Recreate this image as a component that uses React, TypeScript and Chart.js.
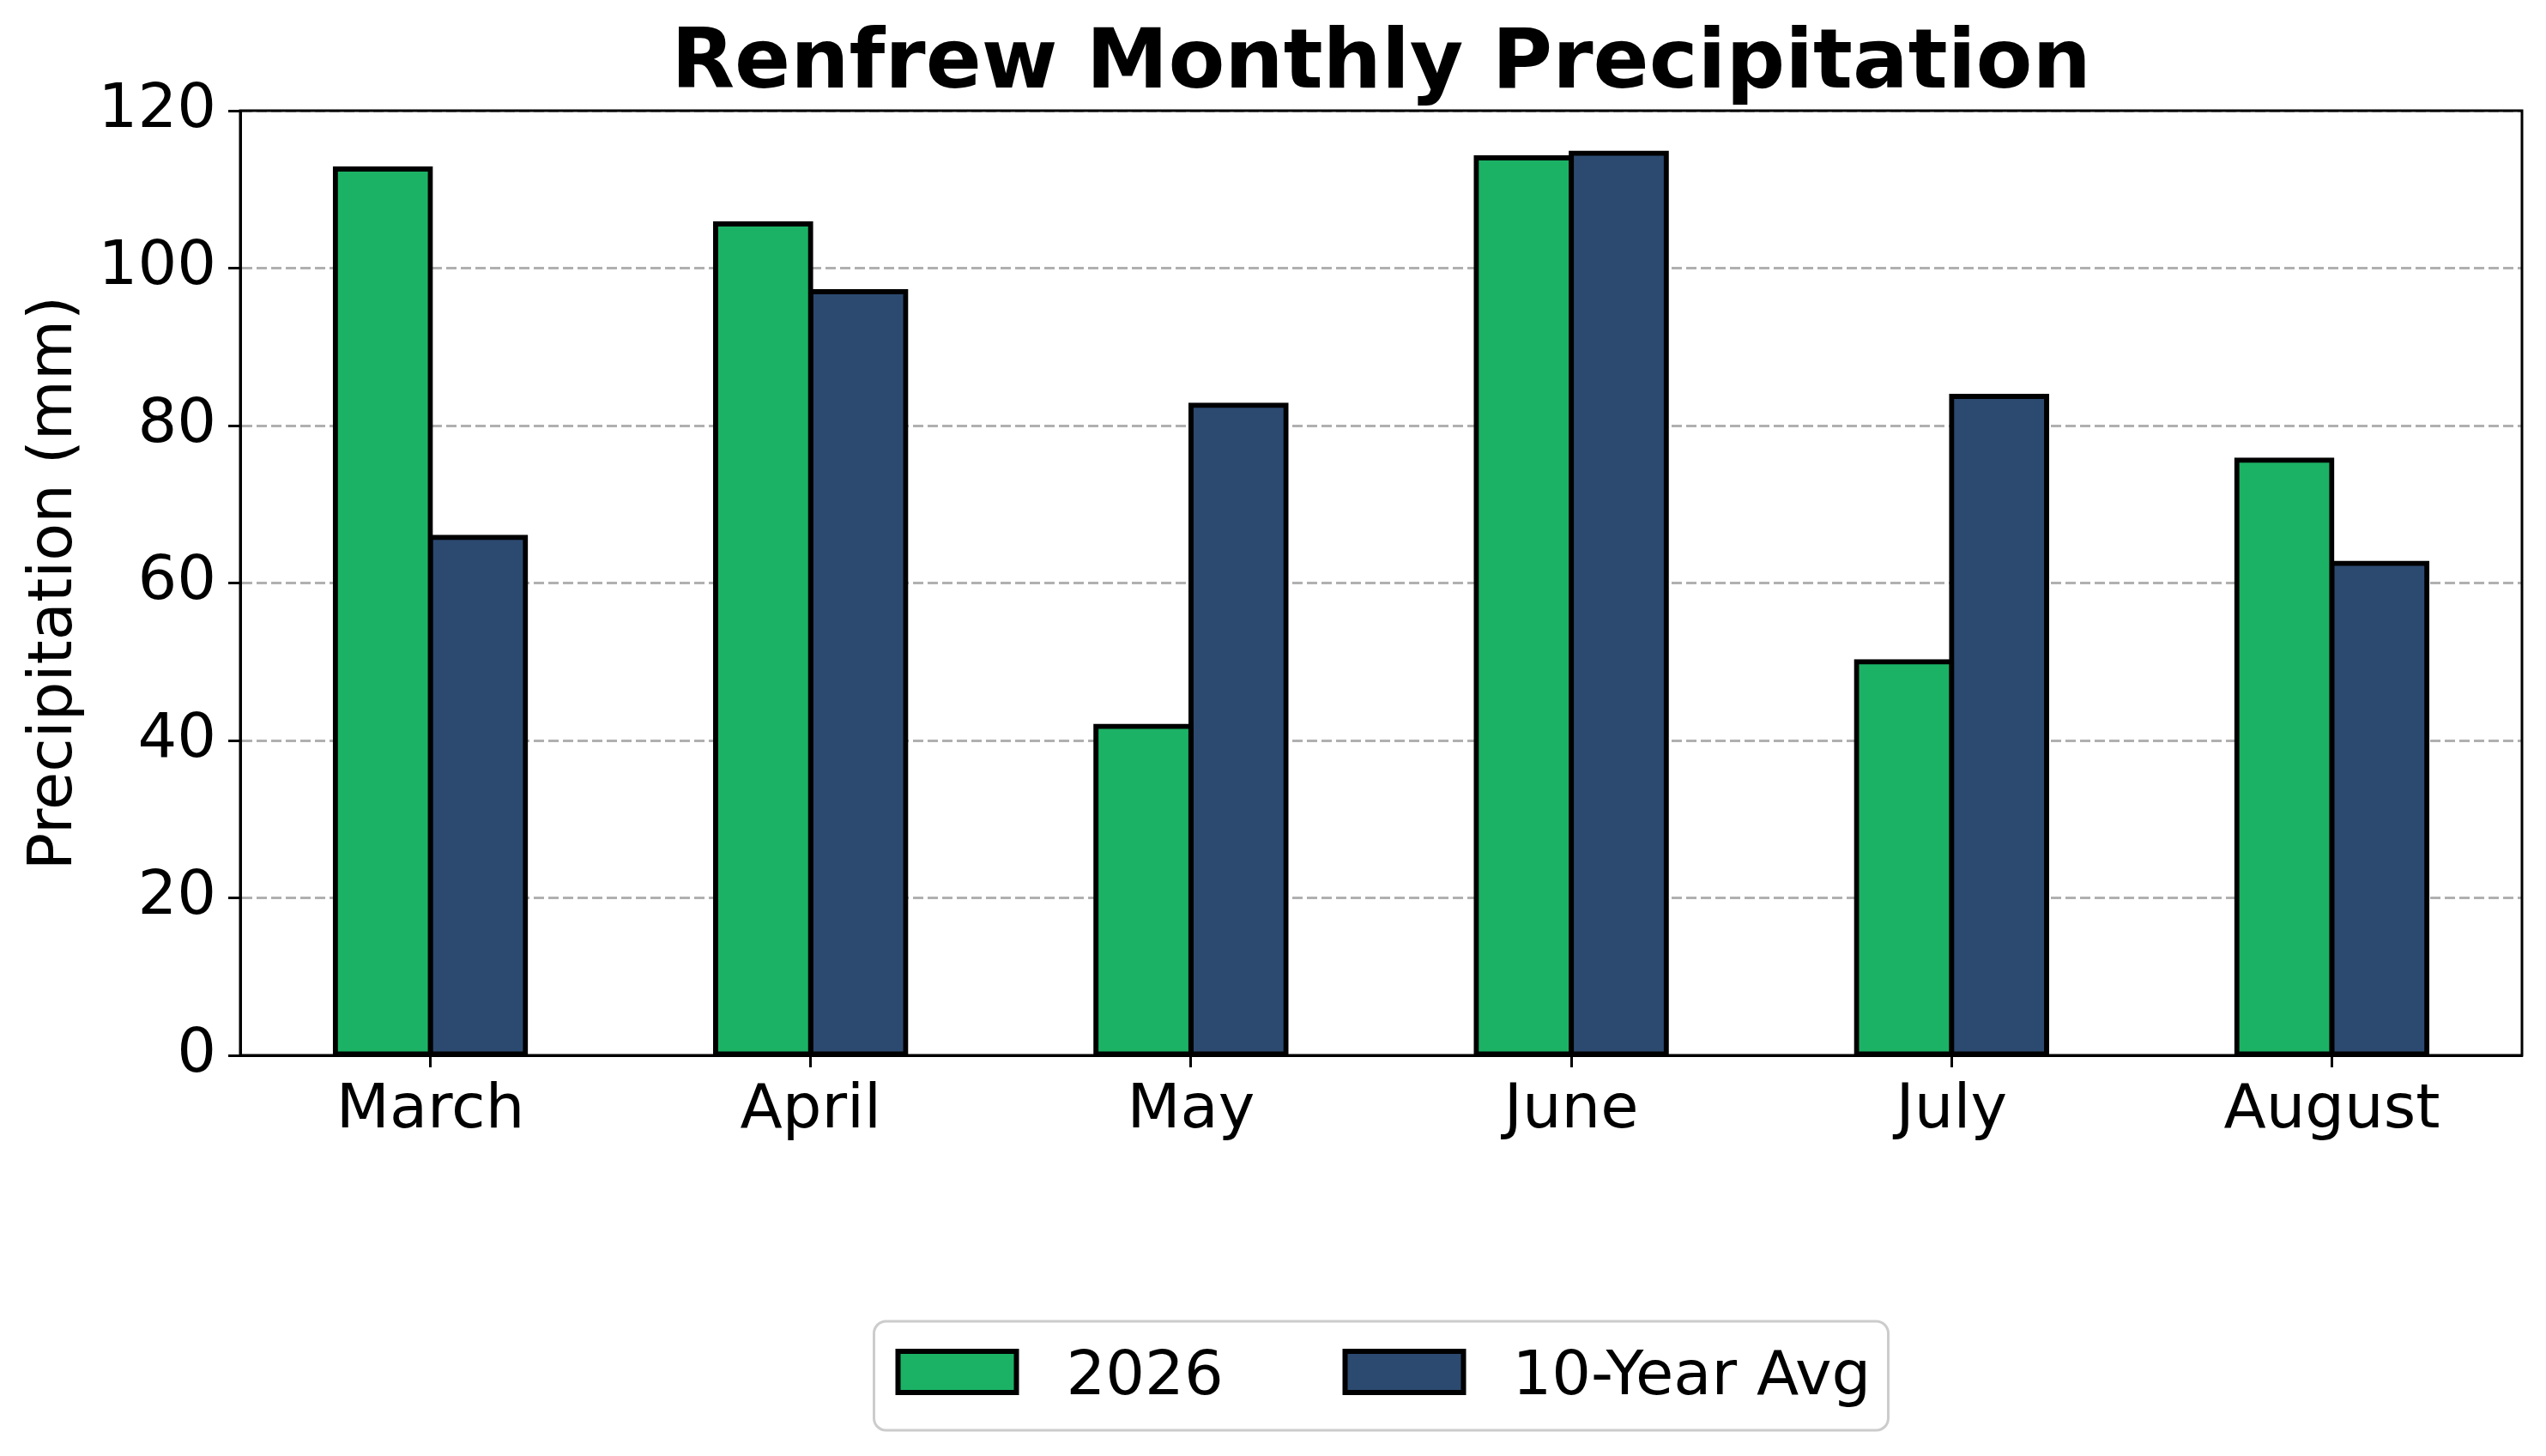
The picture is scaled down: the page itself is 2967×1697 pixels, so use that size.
import React, { useEffect, useRef } from "react";
import { Chart, registerables } from "chart.js";

Chart.register(...registerables);

// ---- data ----
const months = ["March", "April", "May", "June", "July", "August"];
const precip2026 = [112.6, 105.6, 41.8, 114.0, 50.0, 75.6];
const tenYearAvg = [65.8, 97.0, 82.6, 114.6, 83.7, 62.5];
const seriesLabels = ["2026", "10-Year Avg"];
const seriesColors = ["#1bb265", "#2c4a70"];
const yMin = 0;
const yMax = 120;
const yStep = 20;
const titleText = "Renfrew Monthly Precipitation";
const yTitleText = "Precipitation (mm)";

const FONT = "'DejaVu Sans', 'Liberation Sans', sans-serif";
const W = 2967;
const H = 1697;

const spinesPlugin = {
  id: "spines",
  afterDatasetsDraw(chart: any) {
    const { ctx, chartArea } = chart;
    const { left, top, right, bottom } = chartArea;
    ctx.save();
    ctx.strokeStyle = "#000";
    ctx.lineWidth = 3;
    ctx.strokeRect(left, top, right - left, bottom - top);
    ctx.restore();
  },
};

const legendPlugin = {
  id: "mplLegend",
  afterDraw(chart: any) {
    const { ctx, chartArea } = chart;
    const boxW = 1182;
    const boxH = 127;
    const cx = (chartArea.left + chartArea.right) / 2;
    const left = cx - boxW / 2;
    const top = 1540;
    const r = 14;
    ctx.save();
    ctx.beginPath();
    ctx.moveTo(left + r, top);
    ctx.lineTo(left + boxW - r, top);
    ctx.arcTo(left + boxW, top, left + boxW, top + r, r);
    ctx.lineTo(left + boxW, top + boxH - r);
    ctx.arcTo(left + boxW, top + boxH, left + boxW - r, top + boxH, r);
    ctx.lineTo(left + r, top + boxH);
    ctx.arcTo(left, top + boxH, left, top + boxH - r, r);
    ctx.lineTo(left, top + r);
    ctx.arcTo(left, top, left + r, top, r);
    ctx.closePath();
    ctx.fillStyle = "rgba(255,255,255,0.8)";
    ctx.fill();
    ctx.strokeStyle = "#cccccc";
    ctx.lineWidth = 3;
    ctx.stroke();

    const patchOffsets = [25, 546];
    const textInkOffsets = [229, 751];
    const patchW = 144;
    const patchH = 54;
    const patchTop = top + 32;
    const baseline = top + 85;
    ctx.font = `72px ${FONT}`;
    ctx.textBaseline = "alphabetic";
    ctx.textAlign = "left";
    chart.data.datasets.forEach((ds: any, i: number) => {
      const px = left + patchOffsets[i];
      ctx.fillStyle = ds.backgroundColor;
      ctx.fillRect(px + 3, patchTop + 3, patchW - 6, patchH - 6);
      ctx.strokeStyle = "#000";
      ctx.lineWidth = 6;
      ctx.strokeRect(px + 3, patchTop + 3, patchW - 6, patchH - 6);
      const m = ctx.measureText(ds.label);
      const tx = left + textInkOffsets[i] + (m.actualBoundingBoxLeft || 0);
      ctx.fillStyle = "#000";
      ctx.fillText(ds.label, tx, baseline);
    });
    ctx.restore();
  },
};

export default function App() {
  const ref = useRef<HTMLCanvasElement | null>(null);

  useEffect(() => {
    if (!ref.current) return;
    const chart = new Chart(ref.current, {
      type: "bar",
      data: {
        labels: months,
        datasets: [
          {
            label: seriesLabels[0],
            data: precip2026,
            backgroundColor: seriesColors[0],
            borderColor: "#000",
            borderWidth: 6,
            borderSkipped: false,
            inflateAmount: 3,
            categoryPercentage: 0.5,
            barPercentage: 1.0,
          },
          {
            label: seriesLabels[1],
            data: tenYearAvg,
            backgroundColor: seriesColors[1],
            borderColor: "#000",
            borderWidth: 6,
            borderSkipped: false,
            inflateAmount: 3,
            categoryPercentage: 0.5,
            barPercentage: 1.0,
          },
        ],
      },
      options: {
        animation: false,
        responsive: false,
        devicePixelRatio: 1,
        layout: { padding: { left: 0, right: 28, top: 0, bottom: 0 } },
        plugins: {
          legend: { display: false },
          tooltip: { enabled: false },
          title: {
            display: true,
            text: titleText,
            fullSize: false,
            color: "#000",
            font: { family: FONT, size: 96, weight: "bold", lineHeight: 1 },
            padding: { top: 29, bottom: 4 },
          },
        },
        scales: {
          x: {
            type: "category",
            offset: true,
            grid: {
              display: true,
              offset: false,
              drawOnChartArea: false,
              drawTicks: true,
              tickLength: 14,
              tickWidth: 3,
              tickColor: "#000",
            },
            border: { display: true, color: "#000", width: 3 },
            ticks: {
              color: "#000",
              font: { family: FONT, size: 72, lineHeight: 1.2 },
              padding: 8,
              autoSkip: false,
              maxRotation: 0,
              minRotation: 0,
            },
            afterFit: (scale: any) => {
              scale.height = 467;
            },
          },
          y: {
            type: "linear",
            min: yMin,
            max: yMax,
            grid: {
              display: true,
              color: "#b0b0b0",
              lineWidth: 3,
              drawTicks: true,
              tickLength: 14,
              tickWidth: 3,
              tickColor: "#000",
            },
            border: { display: true, color: "#000", width: 3, dash: [12, 5] },
            ticks: {
              stepSize: yStep,
              color: "#000",
              font: { family: FONT, size: 72, lineHeight: 1.2 },
              padding: 14,
            },
            title: {
              display: true,
              text: yTitleText,
              color: "#000",
              font: { family: FONT, size: 72, lineHeight: 1 },
              padding: { top: 28, bottom: 0 },
            },
            afterFit: (scale: any) => {
              scale.width = 280;
            },
          },
        },
      },
      plugins: [spinesPlugin, legendPlugin],
    } as any);
    return () => chart.destroy();
  }, []);

  return (
    <div style={{ position: "fixed", left: 0, top: 0, width: W, height: H, background: "#fff" }}>
      <canvas ref={ref} width={W} height={H} style={{ display: "block", width: W, height: H }} />
    </div>
  );
}
